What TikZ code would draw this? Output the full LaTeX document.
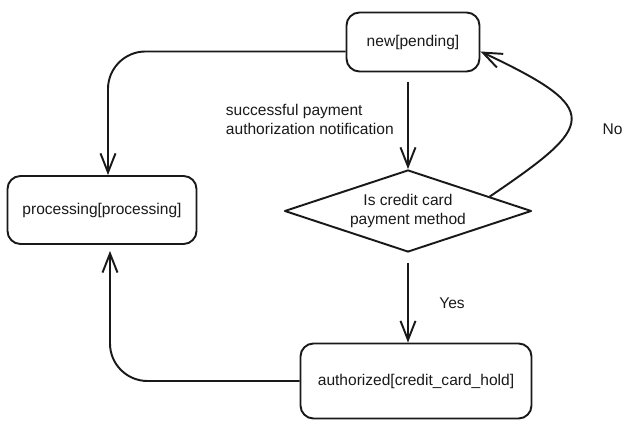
\documentclass[tikz,border=0pt]{standalone}
\usepackage{fontspec}
\setmainfont{Liberation Sans}
\usetikzlibrary{shapes.geometric,arrows.meta,positioning}

\begin{document}
\begin{tikzpicture}[black!90, line width=1.1pt, line join=round,
    state/.style={draw, rounded corners=2.6mm, align=center,
        font=\fontsize{8.85}{11}\selectfont},
    choice/.style={draw, diamond, aspect=3, inner sep=0pt, minimum width=4.94cm,
        minimum height=1.64cm, align=center,
        font=\fontsize{8.85}{11}\selectfont},
    flow/.style={-{Straight Barb[length=3.8mm,width=3mm]}},
    lbl/.style={inner sep=0pt, align=left,
        font=\fontsize{8.85}{11}\selectfont}]

\useasboundingbox (0,0) rectangle (12.72,8.6);

% States
\node[state, minimum width=2.66cm, minimum height=1.18cm] (new) at (8.26,7.76) {new[pending]};
\node[state, minimum width=3.78cm, minimum height=1.36cm] (proc) at (2.04,4.4) {processing[processing]};
\node[state, minimum width=4.62cm, minimum height=1.5cm] (auth) at (8.32,0.98) {authorized[credit\_card\_hold]};

% Decision
\node[choice] (dia) at (8.16,4.38) {Is credit card\\payment method};

% Notification into the decision
\draw[flow, shorten <=2mm] (new.south -| dia.north) -- (dia.north);
\node[lbl, anchor=west] (note) at (4.5,6.21) {successful payment\\authorization notification};

% Yes branch
\draw[flow, shorten <=2mm] (dia.south) -- (dia.south |- auth.north);
\node[lbl] (yes) at (9.04,2.53) {Yes};

% No branch, back to new
\draw[flow] (dia.10) .. controls (11.9,6.1) and (12.1,6.4) .. (new.-8);
\node[lbl] (no) at (12.25,6.02) {No};

% Into processing
\draw[flow, rounded corners=7.5mm] (new.188) -| ([xshift=1.2mm]proc.north);
\draw[flow, rounded corners=7.5mm, shorten >=1.2mm] (auth.west) -| ([xshift=1.6mm]proc.south);

\end{tikzpicture}
\end{document}
